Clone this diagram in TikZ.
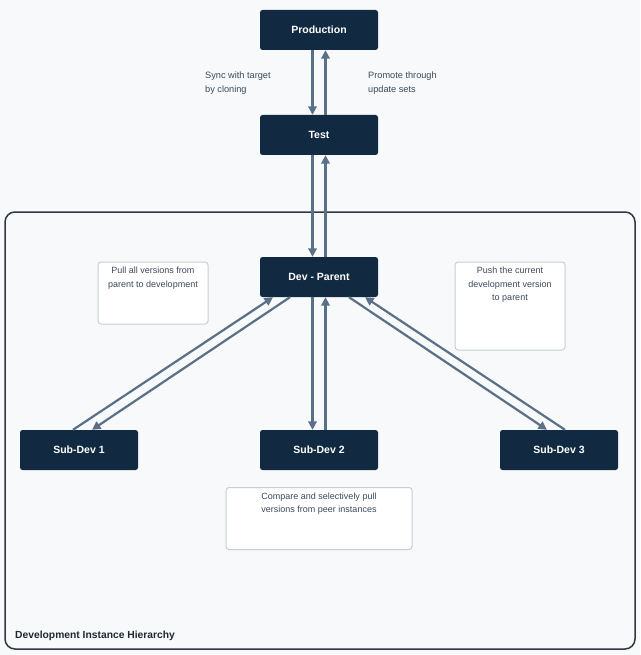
\documentclass[tikz,border=0pt]{standalone}
\usepackage{fontspec}
\setmainfont{Liberation Sans}
\usetikzlibrary{arrows.meta}
\definecolor{navy}{HTML}{112A42}
\definecolor{edgec}{HTML}{5A6F88}
\definecolor{txt}{HTML}{3B4A5C}
\definecolor{bgc}{HTML}{F8F9FA}
\definecolor{framec}{HTML}{2F3843}
\definecolor{noteb}{HTML}{C9CED4}
\definecolor{titlec}{HTML}{1E2835}
\begin{document}
\begin{tikzpicture}[x=1pt,y=-1pt,
 inst/.style={fill=navy, rounded corners=2.5pt, minimum width=118pt, minimum height=40pt, text=white, font=\fontsize{10.5}{12}\selectfont\bfseries, inner sep=0pt},
 notebox/.style={draw=noteb, fill=white, rounded corners=3pt, line width=1pt, inner sep=0pt},
 notetext/.style={text=txt, font=\fontsize{9}{13.3}\selectfont, align=center, anchor=north, inner sep=0pt},
 lab/.style={text=txt, font=\fontsize{9.2}{13.7}\selectfont, align=left, anchor=north west, inner sep=0pt},
 flow/.style={draw=edgec, line width=2.2pt, -{Triangle[width=8.5pt,length=8.5pt]}}]
\useasboundingbox (0,0) rectangle (640,655);
\fill[bgc] (0,0) rectangle (640,655);
% container
\draw[framec, line width=1.5pt, fill=bgc, rounded corners=10pt] (5,212) rectangle (635,649);
\node[anchor=west, inner sep=0pt, text=titlec, font=\fontsize{10.3}{12}\selectfont\bfseries] (title) at (15,636) {Development Instance Hierarchy};
% nodes
\node[inst] (prod) at (319,30) {Production};
\node[inst] (test) at (319,135) {Test};
\node[inst] (dev) at (319,277) {Dev - Parent};
\node[inst] (s1) at (79,450) {Sub-Dev 1};
\node[inst] (s2) at (319,450) {Sub-Dev 2};
\node[inst] (s3) at (559,450) {Sub-Dev 3};
% notes
\node[notebox, minimum width=110pt, minimum height=62pt] (n1) at (153,293) {};
\node[notetext] (n1t) at ([yshift=-5.5pt]n1.north) {Pull all versions from\\parent to development};
\node[notebox, minimum width=110pt, minimum height=88pt] (n3) at (510,306) {};
\node[notetext] (n3t) at ([yshift=-5.5pt]n3.north) {Push the current\\development version\\to parent};
\node[notebox, minimum width=186pt, minimum height=62pt] (n2) at (319,518.5) {};
\node[notetext] (n2t) at ([yshift=-5.5pt]n2.north) {Compare and selectively pull\\versions from peer instances};
% labels
\node[lab] (l1) at (205,72) {Sync with target\\by cloning};
\node[lab] (l2) at (368,72) {Promote through\\update sets};
% connectors
\draw[flow] ([xshift=-6.5pt]prod.south) -- ([xshift=-6.5pt]test.north);
\draw[flow] ([xshift=6.5pt]test.north) -- ([xshift=6.5pt]prod.south);
\draw[flow] ([xshift=-6.5pt]test.south) -- ([xshift=-6.5pt]dev.north);
\draw[flow] ([xshift=6.5pt]dev.north) -- ([xshift=6.5pt]test.south);
\draw[flow] ([xshift=-29pt]dev.south) -- ([xshift=13pt]s1.north);
\draw[flow] ([xshift=-6pt]s1.north) -- ([xshift=-46pt]dev.south);
\draw[flow] ([xshift=-6.5pt]dev.south) -- ([xshift=-6.5pt]s2.north);
\draw[flow] ([xshift=6.5pt]s2.north) -- ([xshift=6.5pt]dev.south);
\draw[flow] ([xshift=30pt]dev.south) -- ([xshift=-12pt]s3.north);
\draw[flow] ([xshift=6pt]s3.north) -- ([xshift=46pt]dev.south);
\end{tikzpicture}
\end{document}
